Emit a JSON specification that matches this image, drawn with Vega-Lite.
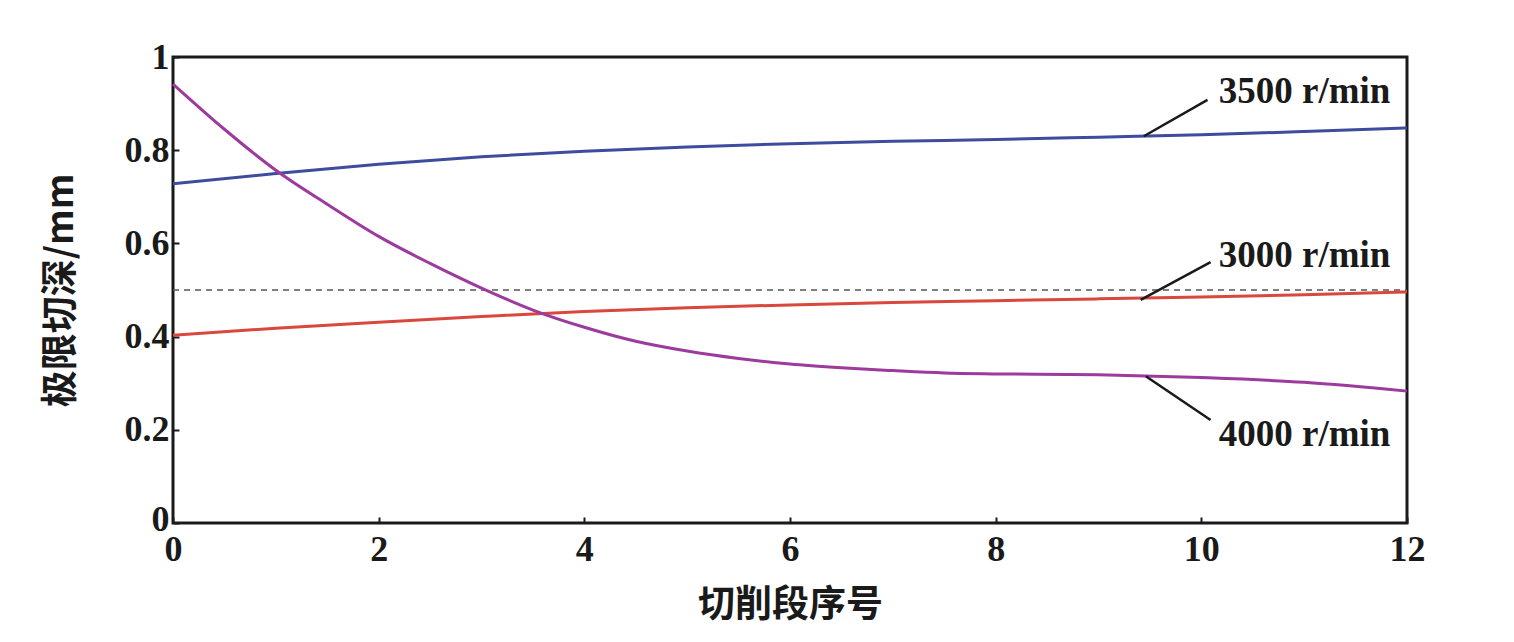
{
  "$schema": "https://vega.github.io/schema/vega-lite/v6.json",
  "autosize": "none",
  "padding": {"left": 173, "top": 57, "right": 107, "bottom": 119},
  "width": 1234,
  "height": 466,
  "background": "white",
  "config": {
    "view": {"stroke": "#1a1a1a", "strokeWidth": 3},
    "font": "Liberation Serif"
  },
  "datasets": {
    "curves": [
      {"x": 0, "y": 0.728, "s": "3500"}, {"x": 1, "y": 0.75, "s": "3500"}, {"x": 2, "y": 0.77, "s": "3500"},
      {"x": 3, "y": 0.786, "s": "3500"}, {"x": 4, "y": 0.798, "s": "3500"}, {"x": 5, "y": 0.807, "s": "3500"},
      {"x": 6, "y": 0.814, "s": "3500"}, {"x": 7, "y": 0.819, "s": "3500"}, {"x": 8, "y": 0.823, "s": "3500"},
      {"x": 9, "y": 0.828, "s": "3500"}, {"x": 10, "y": 0.833, "s": "3500"}, {"x": 11, "y": 0.84, "s": "3500"},
      {"x": 12, "y": 0.848, "s": "3500"},
      {"x": 0, "y": 0.403, "s": "3000"}, {"x": 1, "y": 0.418, "s": "3000"}, {"x": 2, "y": 0.431, "s": "3000"},
      {"x": 3, "y": 0.443, "s": "3000"}, {"x": 4, "y": 0.454, "s": "3000"}, {"x": 5, "y": 0.462, "s": "3000"},
      {"x": 6, "y": 0.468, "s": "3000"}, {"x": 7, "y": 0.473, "s": "3000"}, {"x": 8, "y": 0.477, "s": "3000"},
      {"x": 9, "y": 0.481, "s": "3000"}, {"x": 10, "y": 0.485, "s": "3000"}, {"x": 11, "y": 0.49, "s": "3000"},
      {"x": 12, "y": 0.496, "s": "3000"},
      {"x": 0, "y": 0.942, "s": "4000"}, {"x": 0.5, "y": 0.845, "s": "4000"}, {"x": 1, "y": 0.757, "s": "4000"},
      {"x": 1.5, "y": 0.684, "s": "4000"}, {"x": 2, "y": 0.615, "s": "4000"}, {"x": 2.5, "y": 0.557, "s": "4000"},
      {"x": 3, "y": 0.504, "s": "4000"}, {"x": 3.5, "y": 0.457, "s": "4000"}, {"x": 4, "y": 0.42, "s": "4000"},
      {"x": 4.5, "y": 0.39, "s": "4000"}, {"x": 5, "y": 0.369, "s": "4000"}, {"x": 5.5, "y": 0.353, "s": "4000"},
      {"x": 6, "y": 0.341, "s": "4000"}, {"x": 6.5, "y": 0.333, "s": "4000"}, {"x": 7, "y": 0.327, "s": "4000"},
      {"x": 7.5, "y": 0.322, "s": "4000"}, {"x": 8, "y": 0.32, "s": "4000"}, {"x": 9, "y": 0.318, "s": "4000"},
      {"x": 10, "y": 0.312, "s": "4000"}, {"x": 11, "y": 0.302, "s": "4000"}, {"x": 12, "y": 0.283, "s": "4000"}
    ],
    "labels": [
      {"x": 10.17, "y": 0.925, "text": "3500 r/min"},
      {"x": 10.17, "y": 0.573, "text": "3000 r/min"},
      {"x": 10.17, "y": 0.189, "text": "4000 r/min"}
    ],
    "leaders": [
      {"x": 9.44, "y": 0.83, "x2": 10.06, "y2": 0.908},
      {"x": 9.41, "y": 0.479, "x2": 10.09, "y2": 0.56},
      {"x": 9.46, "y": 0.315, "x2": 10.09, "y2": 0.221}
    ],
    "ref": [{"x": 0, "y": 0.5}, {"x": 12, "y": 0.5}]
  },
  "layer": [
    {
      "data": {"name": "ref"},
      "mark": {"type": "line", "color": "#555555", "strokeWidth": 1.5, "strokeDash": [6, 5]},
      "encoding": {
        "x": {"field": "x", "type": "quantitative"},
        "y": {"field": "y", "type": "quantitative"}
      }
    },
    {
      "data": {"name": "curves"},
      "mark": {"type": "line", "strokeWidth": 3, "interpolate": "monotone"},
      "encoding": {
        "x": {
          "field": "x", "type": "quantitative",
          "scale": {"domain": [0, 12], "nice": false},
          "axis": {
            "title": "切削段序号", "titleFont": "Noto Sans CJK SC", "titleFontWeight": "bold",
            "titleFontSize": 37, "titleColor": "#1a1a1a", "titlePadding": 20,
            "values": [0, 2, 4, 6, 8, 10, 12], "format": "d", "labelFontSize": 36, "labelFontWeight": "bold",
            "labelColor": "#1a1a1a", "labelPadding": 15, "domain": false, "grid": false,
            "tickSize": -6, "tickWidth": 2, "tickColor": "#1a1a1a", "labelFlush": false
          }
        },
        "y": {
          "field": "y", "type": "quantitative",
          "scale": {"domain": [0, 1], "nice": false},
          "axis": {
            "title": "极限切深/mm", "titleFont": "Noto Sans CJK SC", "titleFontWeight": "bold",
            "titleFontSize": 37, "titleColor": "#1a1a1a", "titlePadding": 44,
            "values": [0, 0.2, 0.4, 0.6, 0.8, 1], "labelFontSize": 36, "labelFontWeight": "bold",
            "labelColor": "#1a1a1a", "labelPadding": 10, "domain": false, "grid": false,
            "labelOffset": {"condition": {"test": "datum.value == 0", "value": -4}, "value": 0},
            "tickSize": -6, "tickWidth": 2, "tickColor": "#1a1a1a", "labelFlush": false,
            "labelExpr": "datum.value == 0 ? '0' : datum.value == 1 ? '1' : format(datum.value, '.1f')"
          }
        },
        "color": {
          "field": "s", "type": "nominal",
          "scale": {"domain": ["3500", "3000", "4000"], "range": ["#3d4c9e", "#d9473d", "#9c3a9e"]},
          "legend": null
        }
      }
    },
    {
      "data": {"name": "leaders"},
      "mark": {"type": "rule", "color": "#1a1a1a", "strokeWidth": 2.5},
      "encoding": {
        "x": {"field": "x", "type": "quantitative"},
        "y": {"field": "y", "type": "quantitative"},
        "x2": {"field": "x2"},
        "y2": {"field": "y2"}
      }
    },
    {
      "data": {"name": "labels"},
      "mark": {"type": "text", "align": "left", "baseline": "middle", "fontSize": 37, "fontWeight": "bold", "font": "Liberation Serif", "color": "#1a1a1a"},
      "encoding": {
        "x": {"field": "x", "type": "quantitative"},
        "y": {"field": "y", "type": "quantitative"},
        "text": {"field": "text"}
      }
    }
  ]
}
